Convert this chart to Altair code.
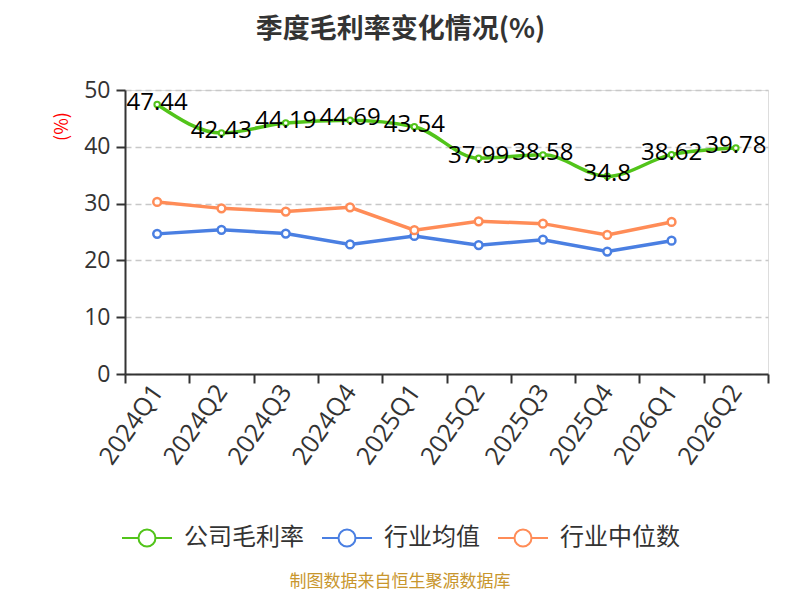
import altair as alt
import pandas as pd

quarters = ["2024Q1", "2024Q2", "2024Q3", "2024Q4", "2025Q1", "2025Q2", "2025Q3", "2025Q4", "2026Q1", "2026Q2"]
company = [47.44, 42.43, 44.19, 44.69, 43.54, 37.99, 38.58, 34.8, 38.62, 39.78]
industry_avg = [24.67, 25.39, 24.73, 22.81, 24.31, 22.69, 23.65, 21.56, 23.47]
industry_median = [30.30, 29.16, 28.60, 29.34, 25.33, 26.89, 26.47, 24.49, 26.77]

series_names = ["公司毛利率", "行业均值", "行业中位数"]
series_colors = ["#52c41a", "#4a7fe2", "#ff8c57"]
title_text = "季度毛利率变化情况(%)"
source_text = "制图数据来自恒生聚源数据库"

rows = []
for q, v in zip(quarters, company):
    rows.append({"q": q, "s": series_names[0], "v": v})
for q, v in zip(quarters, industry_avg):
    rows.append({"q": q, "s": series_names[1], "v": v})
for q, v in zip(quarters, industry_median):
    rows.append({"q": q, "s": series_names[2], "v": v})
df = pd.DataFrame(rows)

FONT = "Noto Sans CJK SC"
NUMFONT = "Open Sans, Noto Sans CJK SC"
W, H = 643, 284
LEFT, TOP = 117, 82

legend_path = ("M-1,0L-0.34,0M0.34,0L1,0"
               "M-0.34,0A0.34,0.34,0,1,1,0.34,0A0.34,0.34,0,1,1,-0.34,0Z")

color = alt.Color(
    "s:N",
    scale=alt.Scale(domain=series_names, range=series_colors),
    legend=alt.Legend(
        title=None, orient="none", direction="horizontal",
        legendX=-4, legendY=422, gridAlign="none",
        symbolType=legend_path, symbolSize=2500, symbolStrokeWidth=2,
        symbolFillColor="white", labelFontSize=24, labelFont=FONT,
        labelColor="#333", labelOffset=11, columnPadding=14, padding=0,
    ),
)

x = alt.X(
    "q:N", sort=quarters, title=None,
    scale=alt.Scale(domain=quarters, paddingInner=0, paddingOuter=0),
    axis=alt.Axis(
        tickBand="extent", labelAngle=-55, labelAlign="right", labelBaseline="middle",
        labelFontSize=25, labelFont=NUMFONT, labelColor="#333", labelPadding=4,
        tickSize=9, tickColor="#333", domainColor="#333", domainWidth=2, tickWidth=2,
        grid=False,
    ),
)
y = alt.Y(
    "v:Q", title="(%)",
    scale=alt.Scale(domain=[0, 50], nice=False),
    axis=alt.Axis(
        values=[0, 10, 20, 30, 40, 50], labelFontSize=23, labelFont=NUMFONT,
        labelColor="#333", tickSize=9, tickColor="#333", tickWidth=2,
        domainColor="#333", domainWidth=2, labelPadding=6,
        grid=True, gridDash=[6, 4], gridColor="#c8c8c8", gridWidth=1.5,
        titleColor="red", titleFont=FONT, titleFontSize=18, titleFontWeight="normal",
        titleAngle=-90, titleX=-63, titleY=36, titleAlign="center", titleBaseline="middle",
    ),
)

comp_df = df[df.s == series_names[0]]
other_df = df[df.s != series_names[0]]

stroke_enc = alt.Stroke("s:N", scale=alt.Scale(domain=series_names, range=series_colors), legend=None)

line_comp = alt.Chart(comp_df).mark_line(strokeWidth=3.5, interpolate="monotone").encode(x=x, y=y, color=color)
line_other = alt.Chart(other_df).mark_line(strokeWidth=3.5).encode(x=x, y=y, color=color)
pts_comp = alt.Chart(comp_df).mark_point(filled=True, fill="white", size=30, strokeWidth=2, opacity=1).encode(
    x=x, y=y, stroke=stroke_enc)
pts_other = alt.Chart(other_df).mark_point(filled=True, fill="white", size=60, strokeWidth=2.5, opacity=1).encode(
    x=x, y=y, stroke=stroke_enc)
labels = alt.Chart(comp_df).mark_text(fontSize=24, font=NUMFONT, color="black", baseline="middle", dy=-2).encode(
    x=x, y=y, text=alt.Text("v:Q"))
source = alt.Chart(pd.DataFrame({"t": [source_text]})).mark_text(
    fontSize=17, font=FONT, color="#c8962d", align="center", baseline="middle"
).encode(text="t:N", x=alt.value(400 - 8 - LEFT), y=alt.value(582 - 8 - TOP))

chart = alt.layer(line_other, line_comp, pts_other, pts_comp, labels, source).properties(
    width=W, height=H,
    padding={"left": LEFT, "top": TOP, "right": 784 - LEFT - W, "bottom": 584 - TOP - H},
    autosize=alt.AutoSizeParams(type="none"),
    title=alt.TitleParams(text=title_text, fontSize=27, font=FONT, fontWeight="bold",
                          color="#333", anchor="middle", dx=-46, offset=35),
).configure_view(stroke=None).configure(background="white")

chart.save("out.html", embed_options={"renderer": "svg", "actions": False})
